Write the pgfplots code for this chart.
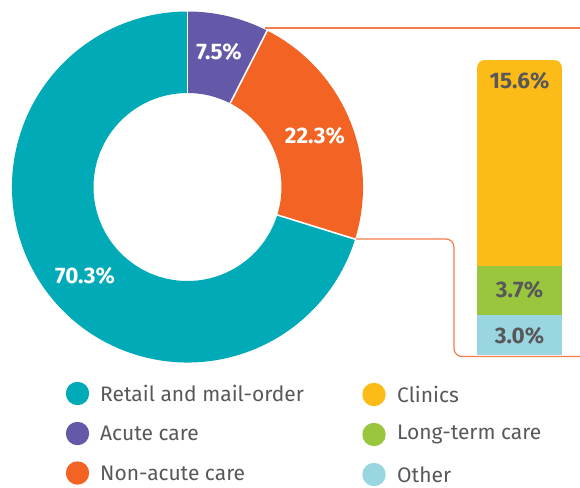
\documentclass[border=0pt]{standalone}
\usepackage{pgfplots}
\pgfplotsset{compat=1.18}
\usepackage{fontspec}
\setmainfont{Fira Sans}
\definecolor{retail}{HTML}{00AAB6}
\definecolor{acute}{HTML}{6459A8}
\definecolor{nonacute}{HTML}{F26324}
\definecolor{clinics}{HTML}{FDBB17}
\definecolor{longterm}{HTML}{99C63D}
\definecolor{other}{HTML}{9AD6DF}
\definecolor{txt}{HTML}{58585A}
\definecolor{conn}{HTML}{F47C4C}
\begin{document}
\begin{tikzpicture}
\useasboundingbox (0,0) rectangle (580pt,487pt);
% donut shares (percent)
\def\vAcute{7.5}
\def\vNonAcute{22.3}
\def\vRetail{70.3}
\pgfmathsetmacro\angA{90}
\pgfmathsetmacro\angB{\angA-3.6*\vAcute}
\pgfmathsetmacro\angC{\angB-3.6*\vNonAcute}
\pgfmathsetmacro\angD{-270}
\def\Rout{175.5pt}
\def\Rin{94pt}
\def\Rext{176.5pt}
\begin{axis}[
  hide axis, scale only axis, clip=false,
  x=1pt, y=1pt, xmin=0, xmax=580, ymin=0, ymax=487, y dir=reverse,
  at={(0,0)}, anchor=south west]
% connector lines
\draw[conn, line width=1.2pt] (axis cs:265,28) -- (axis cs:580,28);
\draw[conn, line width=1.2pt, rounded corners=8pt] (axis cs:356,239) -- (axis cs:454,239) -- (axis cs:454,356.5) -- (axis cs:580,356.5);
% donut sectors
\fill[acute] ([shift={(\angA:\Rout)}]axis cs:187.5,187) arc[start angle=\angA, end angle=\angB, radius=\Rout] -- ([shift={(\angB:\Rin)}]axis cs:187.5,187) arc[start angle=\angB, end angle=\angA, radius=\Rin] -- cycle;
\fill[nonacute] ([shift={(\angB:\Rout)}]axis cs:187.5,187) arc[start angle=\angB, end angle=\angC, radius=\Rout] -- ([shift={(\angC:\Rin)}]axis cs:187.5,187) arc[start angle=\angC, end angle=\angB, radius=\Rin] -- cycle;
\fill[retail] ([shift={(\angC:\Rout)}]axis cs:187.5,187) arc[start angle=\angC, end angle=\angD, radius=\Rout] -- ([shift={(\angD:\Rin)}]axis cs:187.5,187) arc[start angle=\angD, end angle=\angC, radius=\Rin] -- cycle;
\draw[white, line width=1.6pt] ([shift={(\angA:\Rin)}]axis cs:187.5,187) -- ([shift={(\angA:\Rext)}]axis cs:187.5,187);
\draw[white, line width=1.6pt] ([shift={(\angB:\Rin)}]axis cs:187.5,187) -- ([shift={(\angB:\Rext)}]axis cs:187.5,187);
\draw[white, line width=1.6pt] ([shift={(\angC:\Rin)}]axis cs:187.5,187) -- ([shift={(\angC:\Rext)}]axis cs:187.5,187);
% donut labels
\node[white, font=\fontsize{22.5}{26}\selectfont\bfseries] at (axis cs:219,52) {7.5\%};
\node[white, font=\fontsize{22.5}{26}\selectfont\bfseries] at (axis cs:315,136) {22.3\%};
\node[white, font=\fontsize{22.5}{26}\selectfont\bfseries] at (axis cs:85,276) {70.3\%};
% legend
\fill[retail] (axis cs:77.5,393.5) circle[radius=11.7pt];
\fill[acute] (axis cs:77.5,433.5) circle[radius=11.7pt];
\fill[nonacute] (axis cs:77.5,473) circle[radius=11.7pt];
\fill[clinics] (axis cs:374,394.5) circle[radius=11.7pt];
\fill[longterm] (axis cs:374,434.5) circle[radius=11.7pt];
\fill[other] (axis cs:374,474.5) circle[radius=11.7pt];
\begin{scope}[every node/.style={anchor=west, inner sep=0pt, text=txt, font=\fontsize{21}{25}\selectfont}]
\node at (axis cs:100,393.5) {Retail and mail-order};
\node at (axis cs:100,433.5) {Acute care};
\node at (axis cs:100,473) {Non-acute care};
\node at (axis cs:397,394.5) {Clinics};
\node at (axis cs:397,434.5) {Long-term care};
\node at (axis cs:397,474.5) {Other};
\end{scope}
\end{axis}
\begin{scope}
\clip[rounded corners=8pt] (477pt,100pt) rectangle (562pt,427pt);
\begin{axis}[
  hide axis, scale only axis, clip=false,
  at={(477pt,132pt)}, anchor=south west, width=85pt, height=295pt,
  xmin=0, xmax=1, ymin=0, ymax=22.3,
  ybar stacked, bar width=85pt]
\addplot[fill=other, draw=none] coordinates {(0.5,3.0)};
\addplot[fill=longterm, draw=none] coordinates {(0.5,3.7)};
\addplot[fill=clinics, draw=none] coordinates {(0.5,15.6)};
\coordinate (lOther) at (axis cs:0.5,1.45);
\coordinate (lLong) at (axis cs:0.5,4.95);
\coordinate (lClin) at (axis cs:0.5,20.75);
\end{axis}
\end{scope}
\begin{scope}[every node/.style={text=txt, font=\fontsize{22.5}{26}\selectfont\bfseries}]
\node at (lOther) {3.0\%};
\node at (lLong) {3.7\%};
\node at (lClin) {15.6\%};
\end{scope}
\end{tikzpicture}
\end{document}
